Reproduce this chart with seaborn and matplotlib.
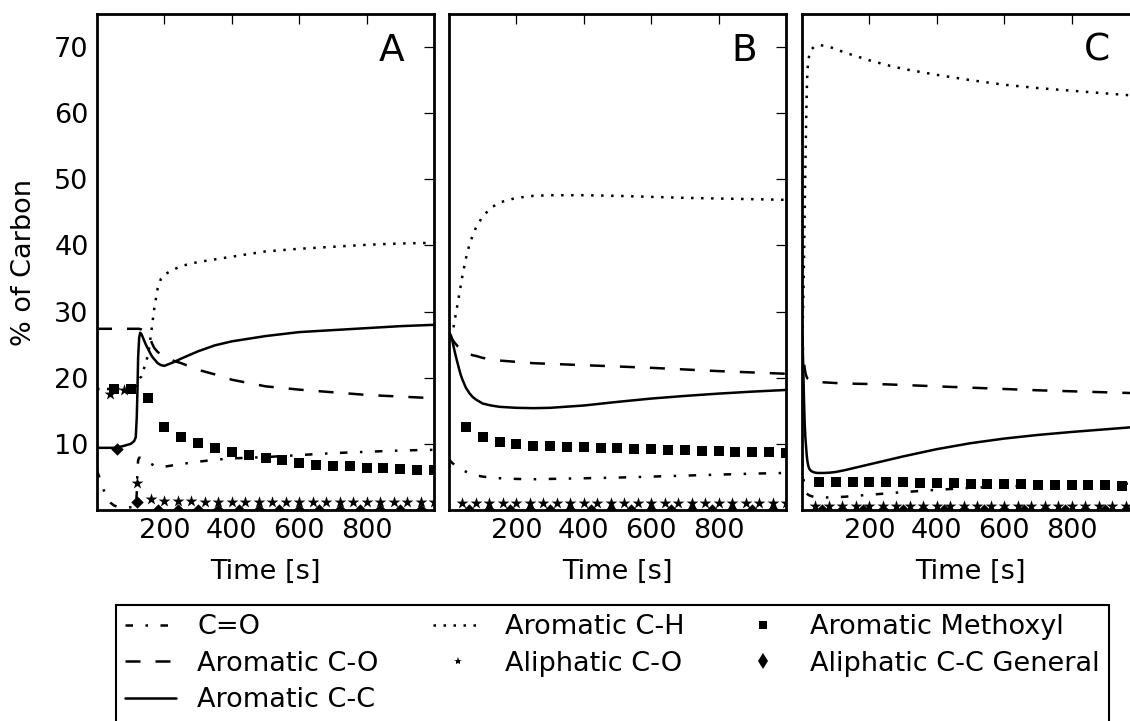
import matplotlib
matplotlib.use("Agg")
import matplotlib.pyplot as plt
from matplotlib.lines import Line2D
import numpy as np
import pandas as pd
import seaborn as sns

# ---------------- data ----------------
panel_letters = ["A", "B", "C"]
series_names = ["C=O", "Aromatic C-O", "Aromatic C-C", "Aromatic C-H",
                "Aliphatic C-O", "Aromatic Methoxyl", "Aliphatic C-C General"]
x_ticks = [200, 400, 600, 800]
y_ticks = [10, 20, 30, 40, 50, 60, 70]

# Panel A (line series share this time grid)
tA = [0, 10, 20, 30, 40, 50, 60, 80, 100, 110, 115, 118, 120, 122, 125, 128, 132,
      136, 140, 145, 150, 155, 160, 165, 170, 180, 190, 200, 225, 250, 300, 350,
      400, 500, 600, 700, 800, 900, 1000]
A_CO = [6.0, 4.5, 3.0, 1.8, 1.1, 0.7, 0.5, 0.4, 0.4, 0.4, 0.5, 2.5, 6.0, 7.5, 7.9,
        7.9, 7.85, 7.8, 7.7, 7.55, 7.4, 7.2, 7.0, 6.85, 6.7, 6.55, 6.5, 6.55, 6.75,
        6.95, 7.3, 7.6, 7.8, 8.0, 8.3, 8.6, 8.8, 9.0, 9.1]
A_ArCO = [27.4, 27.4, 27.4, 27.4, 27.4, 27.4, 27.4, 27.4, 27.4, 27.4, 27.4, 27.4,
          27.4, 27.4, 27.4, 27.35, 27.3, 27.2, 27.0, 26.8, 26.5, 26.1, 25.6, 25.0,
          24.5, 23.9, 23.5, 23.2, 22.6, 22.2, 21.2, 20.5, 19.7, 18.7, 18.2, 17.8,
          17.4, 17.15, 16.9]
A_ArCC = [9.4, 9.4, 9.4, 9.4, 9.4, 9.4, 9.45, 9.7, 10.0, 10.4, 11.0, 14.0, 18.0,
          23.0, 26.0, 26.8, 26.6, 26.1, 25.6, 25.0, 24.5, 24.0, 23.5, 23.1, 22.8,
          22.2, 21.9, 21.8, 22.3, 22.9, 24.0, 24.9, 25.5, 26.3, 26.9, 27.2, 27.5,
          27.8, 28.0]
A_ArCH = [18.3, 18.3, 18.3, 18.3, 18.3, 18.3, 18.3, 18.3, 18.3, 18.3, 18.4, 18.6,
          18.9, 19.3, 19.8, 20.0, 20.2, 20.8, 21.5, 22.3, 23.2, 24.6, 26.5, 28.5,
          30.5, 33.5, 35.0, 35.6, 36.3, 36.9, 37.5, 37.9, 38.3, 39.1, 39.5, 39.8,
          40.1, 40.3, 40.4]
t_mark = [50, 100, 150, 200, 250, 300, 350, 400, 450, 500, 550, 600, 650, 700,
          750, 800, 850, 900, 950, 1000]
A_Methoxyl = [18.3, 18.3, 17.0, 12.5, 11.1, 10.2, 9.4, 8.7, 8.3, 7.8, 7.5, 7.1,
              6.8, 6.7, 6.6, 6.4, 6.3, 6.2, 6.1, 6.0]
t_star = [40, 80, 120, 160, 200, 240, 280, 320, 360, 400, 440, 480, 520, 560,
          600, 640, 680, 720, 760, 800, 840, 880, 920, 960, 1000]
A_AlCO = [17.6, 18.1, 4.1, 1.6, 1.4, 1.3, 1.3, 1.25, 1.2, 1.2, 1.2, 1.2, 1.2, 1.2,
          1.2, 1.2, 1.2, 1.2, 1.2, 1.2, 1.2, 1.2, 1.2, 1.2, 1.2]
t_dia = [60, 120, 180, 240, 300, 360, 420, 480, 540, 600, 660, 720, 780, 840,
         900, 960]
A_AlCC = [9.2, 1.2, 0.0, 0.0, 0.0, 0.0, 0.0, 0.0, 0.0, 0.0, 0.0, 0.0, 0.0, 0.0,
          0.0, 0.0]

# Panel B
tB = [0, 3, 6, 10, 15, 20, 25, 30, 35, 40, 50, 60, 70, 80, 100, 125, 150, 200,
      250, 300, 400, 500, 600, 700, 800, 900, 1000]
B_CO = [7.7, 7.5, 7.3, 7.1, 6.9, 6.7, 6.5, 6.35, 6.2, 6.05, 5.8, 5.6, 5.4, 5.25,
        5.05, 4.9, 4.8, 4.7, 4.65, 4.7, 4.8, 4.9, 5.05, 5.2, 5.35, 5.5, 5.6]
B_ArCO = [26.5, 26.3, 26.1, 25.8, 25.4, 25.1, 24.8, 24.6, 24.4, 24.2, 23.9, 23.6,
          23.4, 23.3, 23.0, 22.8, 22.6, 22.4, 22.2, 22.1, 21.9, 21.7, 21.5, 21.25,
          21.0, 20.8, 20.6]
B_ArCC = [26.8, 26.6, 26.4, 25.6, 24.4, 23.3, 22.3, 21.3, 20.4, 19.7, 18.5, 17.7,
          17.1, 16.7, 16.1, 15.8, 15.6, 15.45, 15.4, 15.45, 15.8, 16.35, 16.85,
          17.25, 17.6, 17.9, 18.15]
B_ArCH = [26.3, 26.4, 26.6, 27.0, 28.0, 29.6, 31.0, 32.5, 34.0, 35.5, 38.0, 40.0,
          41.5, 42.7, 44.4, 45.7, 46.5, 47.2, 47.5, 47.6, 47.6, 47.5, 47.35, 47.2,
          47.1, 47.0, 46.9]
B_Methoxyl = [12.6, 11.0, 10.3, 9.95, 9.75, 9.7, 9.6, 9.55, 9.45, 9.35, 9.25, 9.2,
              9.1, 9.0, 8.95, 8.9, 8.8, 8.75, 8.7, 8.6]
B_AlCO = [1.1] * 25
B_AlCC = [0.0] * 16

# Panel C
tC = [0, 2, 4, 6, 8, 10, 12, 14, 16, 19, 22, 27, 35, 45, 53, 65, 83, 100, 125,
      150, 200, 250, 300, 400, 500, 600, 700, 800, 900, 1000]
C_CO = [7.7, 6.5, 5.0, 4.0, 3.3, 2.9, 2.7, 2.5, 2.4, 2.3, 2.2, 2.1, 2.0, 1.95, 1.9,
        1.9, 1.9, 1.95, 2.0, 2.1, 2.3, 2.5, 2.7, 3.05, 3.35, 3.55, 3.7, 3.85, 3.95,
        4.0]
C_ArCO = [26.5, 25.0, 23.5, 22.3, 21.4, 20.8, 20.4, 20.1, 19.9, 19.8, 19.7, 19.6,
          19.5, 19.4, 19.35, 19.3, 19.25, 19.2, 19.15, 19.1, 19.05, 19.0, 18.9,
          18.7, 18.5, 18.3, 18.1, 17.95, 17.8, 17.65]
C_ArCC = [26.8, 25.0, 21.0, 16.5, 13.0, 11.0, 9.6, 8.3, 7.4, 6.6, 6.2, 5.9, 5.7,
          5.6, 5.6, 5.6, 5.65, 5.75, 6.0, 6.3, 6.9, 7.5, 8.1, 9.2, 10.1, 10.8,
          11.35, 11.8, 12.2, 12.6]
C_ArCH = [26.0, 28.0, 32.0, 38.0, 45.0, 52.0, 58.0, 63.0, 66.4, 68.0, 68.9, 69.6,
          70.0, 70.2, 70.3, 70.2, 70.0, 69.7, 69.2, 68.8, 68.0, 67.3, 66.7, 65.8,
          65.0, 64.3, 63.8, 63.4, 63.0, 62.6]
C_Methoxyl = [4.2, 4.2, 4.25, 4.25, 4.2, 4.2, 4.15, 4.1, 4.05, 4.0, 3.95, 3.9, 3.9,
              3.85, 3.8, 3.8, 3.75, 3.75, 3.7, 3.7]
C_AlCO = [0.6] * 25
C_AlCC = [0.0] * 16

panels = [
    (tA, A_CO, A_ArCO, A_ArCC, A_ArCH, A_Methoxyl, A_AlCO, A_AlCC),
    (tB, B_CO, B_ArCO, B_ArCC, B_ArCH, B_Methoxyl, B_AlCO, B_AlCC),
    (tC, C_CO, C_ArCO, C_ArCC, C_ArCH, C_Methoxyl, C_AlCO, C_AlCC),
]

# ---------------- style ----------------
sns.set_theme(style="white")
plt.rcParams["font.family"] = ["DejaVu Sans"]
plt.rcParams["lines.scale_dashes"] = False
plt.rcParams["axes.edgecolor"] = "black"
plt.rcParams["xtick.color"] = "black"
plt.rcParams["ytick.color"] = "black"
plt.rcParams["text.color"] = "black"
plt.rcParams["axes.labelcolor"] = "black"

FS = 19.5
LW = 1.8
ls_co = (0, (5.4, 9.0, 1.8, 9.0))
ls_dash = (0, (10.8, 10.8))
ls_dot = (0, (1.8, 5.4))

fig = plt.figure(figsize=(11.30, 7.21), dpi=100)
fig.patch.set_facecolor("white")
W = 1130.0
H = 721.0
ax_left_px = [97, 449, 802]
ax_w = 337 / W
ax_b = 1 - 510 / H
ax_h = (510 - 14) / H

axes = []
for i, (t, co, arco, arcc, arch, meth, alco, alcc) in enumerate(panels):
    ax = fig.add_axes([ax_left_px[i] / W, ax_b, ax_w, ax_h])
    axes.append(ax)
    sns.lineplot(x=t, y=co, ax=ax, color="black", lw=LW, linestyle=ls_co)
    sns.lineplot(x=t, y=arco, ax=ax, color="black", lw=LW, linestyle=ls_dash)
    sns.lineplot(x=t, y=arcc, ax=ax, color="black", lw=LW, linestyle="-")
    sns.lineplot(x=t, y=arch, ax=ax, color="black", lw=LW, linestyle=ls_dot)
    sns.scatterplot(x=t_mark, y=meth, ax=ax, color="black", marker="s", s=55,
                    linewidth=0)
    sns.scatterplot(x=t_star, y=alco, ax=ax, color="black", marker="*", s=80,
                    linewidth=0)
    sns.scatterplot(x=t_dia, y=alcc, ax=ax, color="black", marker="D", s=40,
                    linewidth=0)
    ax.set_xlim(0, 1000)
    ax.set_ylim(0, 75)
    ax.set_xticks(x_ticks)
    ax.set_yticks(y_ticks)
    ax.tick_params(direction="in", length=7, width=0.9, top=True,
                   right=(i < 2), labelsize=FS, pad=6, colors="black")
    if i > 0:
        ax.set_yticklabels([])
    for sp in ax.spines.values():
        sp.set_linewidth(2.0)
        sp.set_color("black")
        sp.set_visible(True)
    ax.set_xlabel("Time [s]", fontsize=FS, labelpad=10.5)
    ax.set_ylabel("% of Carbon" if i == 0 else "", fontsize=FS, labelpad=12)
    ax.text(0.913, 0.962, panel_letters[i], transform=ax.transAxes, ha="right",
            va="top", fontsize=27)
    ax.set_facecolor("white")

handles = [
    Line2D([], [], color="black", lw=LW, linestyle=ls_co),
    Line2D([], [], color="black", lw=LW, linestyle=ls_dash),
    Line2D([], [], color="black", lw=LW, linestyle="-"),
    Line2D([], [], color="black", lw=LW, linestyle=ls_dot),
    Line2D([], [], color="black", lw=0, marker="*", markersize=6, markeredgewidth=0),
    Line2D([], [], color="black", lw=0, marker="s", markersize=6, markeredgewidth=0),
    Line2D([], [], color="black", lw=0, marker="d", markersize=8, markeredgewidth=0),
]
leg = fig.legend(handles, series_names, loc="upper left",
                 bbox_to_anchor=(116 / W, 1 - 605 / H), ncol=3, fontsize=FS,
                 frameon=True, fancybox=False, edgecolor="black", framealpha=1,
                 borderaxespad=0, borderpad=0.35, handlelength=1.85,
                 handletextpad=0.8, columnspacing=2.0, labelspacing=0.38,
                 numpoints=1)
leg.get_frame().set_linewidth(1.5)

fig.savefig("out.png", dpi=100, facecolor="white")
